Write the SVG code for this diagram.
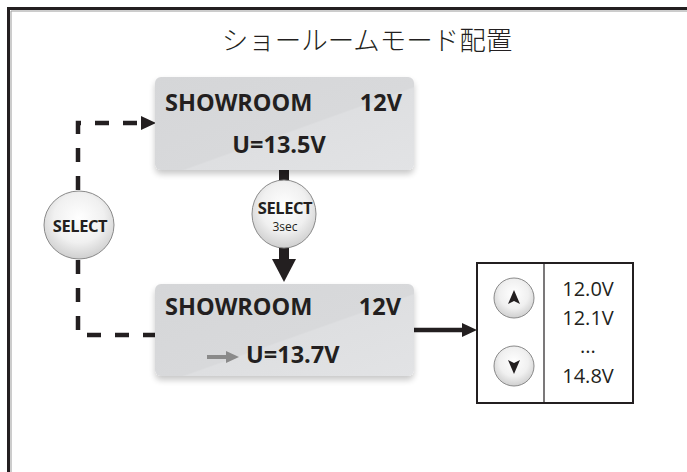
<svg xmlns="http://www.w3.org/2000/svg" width="687" height="472" viewBox="0 0 687 472">
<style>
.lcd{font-family:"Open Sans","Liberation Sans",sans-serif;font-weight:bold;font-size:23.5px;fill:#231f20}
.btn{font-family:"Open Sans","Liberation Sans",sans-serif;font-weight:bold;font-size:16.5px;fill:#231f20;text-anchor:middle;letter-spacing:-0.4px}
.val{font-family:"Open Sans","Liberation Sans",sans-serif;font-size:20px;fill:#231f20;text-anchor:middle}
.title{font-family:"Noto Sans CJK JP","Noto Sans",sans-serif;font-size:26.5px;font-weight:300;fill:#231f20;text-anchor:middle}
.box{fill:url(#lcdg);filter:url(#sh)}
.circ{fill:url(#rg);stroke:#8a8a8a;stroke-width:1}
.dash{fill:none;stroke:#231f20;stroke-width:4.5;stroke-dasharray:14 14}
</style>
<defs>
<linearGradient id="lcdg" x1="0" y1="0" x2="1" y2="1">
<stop offset="0" stop-color="#d5d6d8"/>
<stop offset="0.55" stop-color="#d8d9db"/>
<stop offset="0.56" stop-color="#dedfe1"/>
<stop offset="1" stop-color="#e2e3e5"/>
</linearGradient>
<radialGradient id="rg" cx="0.5" cy="0.4" r="0.6">
<stop offset="0" stop-color="#ffffff"/>
<stop offset="0.6" stop-color="#f0f0f0"/>
<stop offset="1" stop-color="#cfcfcf"/>
</radialGradient>
<filter id="sh" x="-10%" y="-10%" width="120%" height="130%">
<feGaussianBlur in="SourceAlpha" stdDeviation="3"/>
<feOffset dx="0" dy="4" result="b"/>
<feComponentTransfer><feFuncA type="linear" slope="0.22"/></feComponentTransfer>
<feMerge><feMergeNode/><feMergeNode in="SourceGraphic"/></feMerge>
</filter>
</defs>

<g id="frame">
<path d="M8.5,472 V8.5 H687" fill="none" stroke="#231f20" stroke-width="3"/>
<path d="M11,472 V11 H687" fill="none" stroke="#9a9a9a" stroke-width="1"/>
</g>

<g id="title"><text class="title" x="367" y="50">ショールームモード配置</text></g>

<g id="connectors">
<path class="dash" d="M78,190 V123 H143"/>
<path d="M141,116 L156,123 L141,130 z" fill="#231f20"/>
<path class="dash" d="M78,260 V335 H155"/>
<rect x="279" y="170" width="10" height="12" fill="#231f20"/>
<rect x="279" y="246" width="10" height="15" fill="#231f20"/>
<path d="M272,259 L296,259 L284,282 z" fill="#231f20"/>
<path d="M414,330 H464" stroke="#231f20" stroke-width="4.5" fill="none"/>
<path d="M462,323 L477,330 L462,337 z" fill="#231f20"/>
</g>

<g id="box1">
<rect class="box" x="155" y="77" width="259" height="93" rx="6"/>
<text class="lcd" x="165" y="111">SHOWROOM</text>
<text class="lcd" x="402" y="111" text-anchor="end">12V</text>
<text class="lcd" x="279" y="153" text-anchor="middle">U=13.5V</text>
</g>

<g id="box2">
<rect class="box" x="155" y="284" width="259" height="92" rx="6"/>
<text class="lcd" x="165" y="315">SHOWROOM</text>
<text class="lcd" x="401" y="315" text-anchor="end">12V</text>
<path d="M207,357 H228" stroke="#8a8a8a" stroke-width="4"/>
<path d="M226,351 L239,357 L226,363 z" fill="#8a8a8a"/>
<text class="lcd" x="246" y="363">U=13.7V</text>
</g>

<g id="select-left">
<ellipse class="circ" cx="79" cy="225" rx="35" ry="34"/>
<text class="btn" x="80" y="232">SELECT</text>
</g>

<g id="select-3sec">
<ellipse class="circ" cx="284" cy="214" rx="32" ry="34"/>
<text class="btn" x="285" y="214">SELECT</text>
<text class="val" x="285" y="231" style="font-size:12px">3sec</text>
</g>

<g id="panel">
<rect x="477" y="263" width="156" height="140" fill="#ffffff" stroke="#231f20" stroke-width="2"/>
<line x1="544" y1="263" x2="544" y2="403" stroke="#231f20" stroke-width="1.2"/>
<circle class="circ" cx="514" cy="298" r="20"/>
<path d="M514,290 L520,304 L514,301 L508,304 z" fill="#231f20"/>
<circle class="circ" cx="514" cy="366" r="20"/>
<path d="M514,374 L520,360 L514,363 L508,360 z" fill="#231f20"/>
<text class="val" x="588" y="296">12.0V</text>
<text class="val" x="588" y="325">12.1V</text>
<text class="val" x="588" y="353">...</text>
<text class="val" x="588" y="383">14.8V</text>
</g>
</svg>
